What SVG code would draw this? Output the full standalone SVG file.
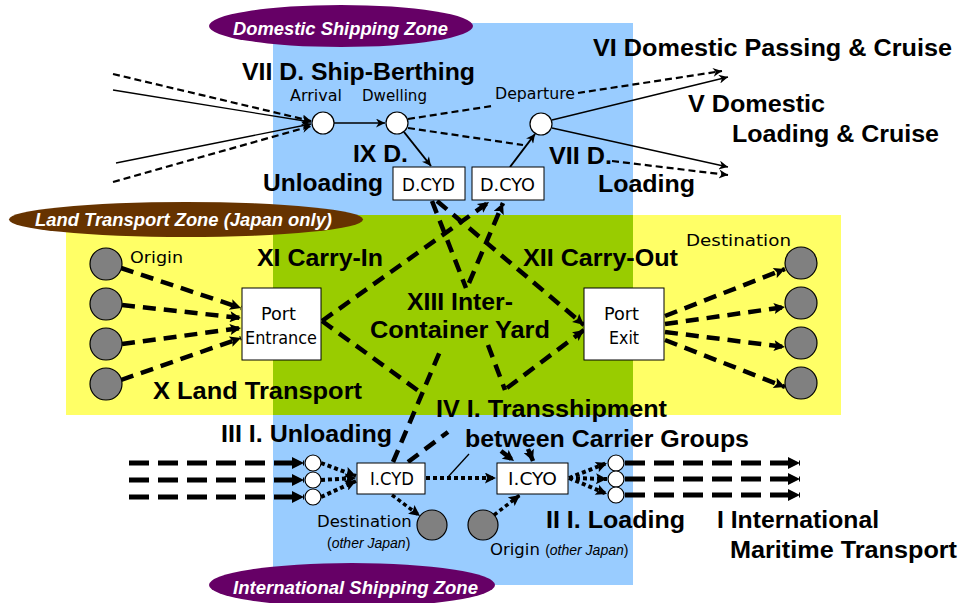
<svg xmlns="http://www.w3.org/2000/svg" width="960" height="603" viewBox="0 0 960 603">
<style>
.b{font-family:"Liberation Sans",Arial,sans-serif;font-weight:bold;font-size:23px;fill:#000}
.s{font-family:"DejaVu Sans","Liberation Sans",sans-serif;font-size:16.5px;fill:#000}
.bx{font-family:"DejaVu Sans","Liberation Sans",sans-serif;font-size:17.5px;fill:#000}
.it{font-family:"Liberation Sans",Arial,sans-serif;font-size:14px;fill:#000}
.z{font-family:"Liberation Sans",Arial,sans-serif;font-weight:bold;font-style:italic;font-size:19px;fill:#fff}
.box{fill:#fff;stroke:#000;stroke-width:1}
.cw{fill:#fff;stroke:#000;stroke-width:1.2}
.cg{fill:#808080;stroke:#000;stroke-width:1.2}
.thin{stroke:#000;stroke-width:1.3;fill:none}
.med{stroke:#000;stroke-width:2;fill:none}
.td{stroke:#000;stroke-width:2.2;stroke-dasharray:7 4;fill:none}
.k{stroke:#000;stroke-width:4.5;stroke-dasharray:13 8;fill:none}
.h{stroke:#000;stroke-width:5;stroke-dasharray:20 9;fill:none}
.d{stroke:#000;stroke-width:4;stroke-dasharray:4 3;fill:none}
</style>
<defs>
<marker id="a1" viewBox="0 0 10 10" refX="10" refY="5" markerWidth="11" markerHeight="9" markerUnits="userSpaceOnUse" orient="auto"><path d="M0,0 L10,5 L0,10 L3,5 z" fill="#000"/></marker>
<marker id="a2" viewBox="0 0 10 10" refX="10" refY="5" markerWidth="13" markerHeight="11" markerUnits="userSpaceOnUse" orient="auto"><path d="M0,0 L10,5 L0,10 L2,5 z" fill="#000"/></marker>
<marker id="a3" viewBox="0 0 10 10" refX="10" refY="5" markerWidth="14" markerHeight="12" markerUnits="userSpaceOnUse" orient="auto"><path d="M0,0 L10,5 L0,10 z" fill="#000"/></marker>
</defs>

<g id="zones">
<rect x="66" y="215" width="775" height="200" fill="#FFFF66"/>
<rect x="273" y="23" width="360" height="562" fill="#99CCFF"/>
<rect x="273" y="215" width="360" height="200" fill="#99CC00"/>
</g>

<g id="connectors">
<line class="td" x1="113" y1="74" x2="311" y2="121" marker-end="url(#a1)"/>
<line class="thin" x1="113" y1="90" x2="311" y2="122" marker-end="url(#a1)"/>
<line class="thin" x1="116" y1="163" x2="311" y2="124" marker-end="url(#a1)"/>
<line class="td" x1="113" y1="182" x2="311" y2="126" marker-end="url(#a1)"/>
<line class="thin" x1="334" y1="123" x2="385" y2="123" marker-end="url(#a1)"/>
<line class="med" x1="404" y1="132" x2="431" y2="166" marker-end="url(#a1)"/>
<line class="td" x1="408" y1="119" x2="492" y2="106"/>
<line class="td" x1="578" y1="93" x2="722" y2="71" marker-end="url(#a1)"/>
<line class="td" x1="408" y1="128" x2="523" y2="145"/>
<line class="td" x1="612" y1="161" x2="728" y2="175" marker-end="url(#a1)"/>
<line class="med" x1="510" y1="167" x2="535" y2="134" marker-end="url(#a1)"/>
<line class="thin" x1="552" y1="120" x2="728" y2="77" marker-end="url(#a1)"/>
<line class="thin" x1="552" y1="128" x2="728" y2="167" marker-end="url(#a1)"/>
<line class="k" x1="121" y1="268" x2="241" y2="308" marker-end="url(#a2)"/>
<line class="k" x1="122" y1="305" x2="241" y2="318" marker-end="url(#a2)"/>
<line class="k" x1="122" y1="344" x2="241" y2="328" marker-end="url(#a2)"/>
<line class="k" x1="121" y1="380" x2="241" y2="338" marker-end="url(#a2)"/>
<line class="k" x1="665" y1="316" x2="785" y2="269" marker-end="url(#a2)"/>
<line class="k" x1="665" y1="324" x2="785" y2="307" marker-end="url(#a2)"/>
<line class="k" x1="665" y1="332" x2="785" y2="347" marker-end="url(#a2)"/>
<line class="k" x1="665" y1="340" x2="785" y2="387" marker-end="url(#a2)"/>
<line class="k" x1="322" y1="321" x2="489" y2="202" marker-end="url(#a2)"/>
<line class="k" x1="322" y1="321" x2="420" y2="392"/>
<line class="k" x1="501" y1="451" x2="514" y2="461" marker-end="url(#a2)"/>
<line class="k" x1="393" y1="462" x2="441" y2="349"/>
<line class="k" x1="469" y1="283" x2="503" y2="203" marker-end="url(#a2)"/>
<line class="k" x1="408" y1="462" x2="448" y2="432"/>
<line class="k" x1="507" y1="388" x2="584" y2="330" marker-end="url(#a2)"/>
<line class="k" x1="437" y1="201" x2="584" y2="325" marker-end="url(#a2)"/>
<line class="k" x1="432" y1="201" x2="466" y2="288"/>
<line class="k" x1="488" y1="345" x2="505" y2="390"/>
<line class="k" x1="528" y1="449" x2="533" y2="461" marker-end="url(#a2)"/>
<line class="h" x1="129" y1="463" x2="304" y2="463" marker-end="url(#a3)"/>
<line class="h" x1="129" y1="480" x2="304" y2="480" marker-end="url(#a3)"/>
<line class="h" x1="129" y1="497" x2="304" y2="497" marker-end="url(#a3)"/>
<line class="d" x1="321" y1="463" x2="356" y2="476" marker-end="url(#a2)"/>
<line class="d" x1="321" y1="480" x2="356" y2="478" marker-end="url(#a2)"/>
<line class="d" x1="321" y1="497" x2="356" y2="481" marker-end="url(#a2)"/>
<line class="d" x1="426" y1="478" x2="496" y2="478" marker-end="url(#a2)"/>
<line class="thin" x1="469" y1="454" x2="448" y2="477"/>
<line class="d" x1="392" y1="495" x2="420" y2="516" marker-end="url(#a2)" style="stroke-width:3.5"/>
<line class="d" x1="494" y1="515" x2="520" y2="495" marker-end="url(#a2)" style="stroke-width:3.5"/>
<line class="d" x1="569" y1="478" x2="607" y2="463" marker-end="url(#a2)"/>
<line class="d" x1="569" y1="478" x2="607" y2="479" marker-end="url(#a2)"/>
<line class="d" x1="569" y1="478" x2="607" y2="494" marker-end="url(#a2)"/>
<line class="h" x1="625" y1="463" x2="800" y2="463" marker-end="url(#a3)"/>
<line class="h" x1="625" y1="479" x2="800" y2="479" marker-end="url(#a3)"/>
<line class="h" x1="625" y1="495" x2="800" y2="495" marker-end="url(#a3)"/>
</g>

<g id="zone-labels">
<ellipse cx="341" cy="26" rx="132" ry="21" fill="#660066"/>
<text class="z" x="233" y="35" textLength="215" lengthAdjust="spacingAndGlyphs">Domestic Shipping Zone</text>
<ellipse cx="186" cy="219.5" rx="177" ry="17.5" fill="#663300"/>
<text class="z" x="35" y="226" textLength="297" lengthAdjust="spacingAndGlyphs">Land Transport Zone (Japan only)</text>
<ellipse cx="352" cy="585" rx="143" ry="22" fill="#660066"/>
<text class="z" x="233" y="594" textLength="245" lengthAdjust="spacingAndGlyphs">International Shipping Zone</text>
</g>

<g id="arrival"><circle class="cw" cx="323" cy="123" r="11"/><text class="s" x="290" y="101" textLength="52" lengthAdjust="spacingAndGlyphs">Arrival</text></g>
<g id="dwelling"><circle class="cw" cx="397" cy="123" r="11"/><text class="s" x="362" y="101" textLength="65" lengthAdjust="spacingAndGlyphs">Dwelling</text></g>
<g id="departure"><circle class="cw" cx="541" cy="124" r="11"/><text class="s" x="495" y="99" textLength="80" lengthAdjust="spacingAndGlyphs">Departure</text></g>
<g id="dcyd"><rect class="box" x="393" y="167" width="72" height="33"/><text class="bx" x="402" y="191" textLength="53" lengthAdjust="spacingAndGlyphs">D.CYD</text></g>
<g id="dcyo"><rect class="box" x="472" y="167" width="72" height="33"/><text class="bx" x="480" y="191" textLength="55" lengthAdjust="spacingAndGlyphs">D.CYO</text></g>
<g id="port-entrance"><rect class="box" x="242" y="288" width="79" height="72"/><text class="bx" x="261" y="320" textLength="35" lengthAdjust="spacingAndGlyphs">Port</text><text class="bx" x="245" y="344" textLength="72" lengthAdjust="spacingAndGlyphs">Entrance</text></g>
<g id="port-exit"><rect class="box" x="584" y="288" width="80" height="72"/><text class="bx" x="604" y="320" textLength="35" lengthAdjust="spacingAndGlyphs">Port</text><text class="bx" x="609" y="344" textLength="30" lengthAdjust="spacingAndGlyphs">Exit</text></g>
<g id="icyd"><rect class="box" x="357" y="463" width="68" height="31"/><text class="bx" x="370" y="485" textLength="44" lengthAdjust="spacingAndGlyphs">I.CYD</text></g>
<g id="icyo"><rect class="box" x="497" y="463" width="71" height="31"/><text class="bx" x="508" y="485" textLength="49" lengthAdjust="spacingAndGlyphs">I.CYO</text></g>
<g id="origins">
<circle class="cg" cx="106" cy="264" r="16"/><circle class="cg" cx="106" cy="304" r="16"/><circle class="cg" cx="106" cy="344" r="16"/><circle class="cg" cx="106" cy="384" r="16"/>
<text class="s" x="130" y="263" textLength="53" lengthAdjust="spacingAndGlyphs">Origin</text>
</g>
<g id="destinations">
<circle class="cg" cx="801" cy="263" r="16"/><circle class="cg" cx="801" cy="303" r="16"/><circle class="cg" cx="801" cy="343" r="16"/><circle class="cg" cx="801" cy="383" r="16"/>
<text class="s" x="686" y="246" textLength="105" lengthAdjust="spacingAndGlyphs">Destination</text>
</g>
<g id="berth-in"><circle class="cw" cx="313" cy="463" r="8"/><circle class="cw" cx="313" cy="480" r="8"/><circle class="cw" cx="313" cy="497" r="8"/></g>
<g id="berth-out"><circle class="cw" cx="616" cy="463" r="8"/><circle class="cw" cx="616" cy="479" r="8"/><circle class="cw" cx="616" cy="495" r="8"/></g>
<g id="dest-other"><circle class="cg" cx="432" cy="525" r="15"/>
<text class="s" x="317" y="527" font-size="15">Destination</text>
<text class="it" x="327" y="548">(<tspan font-style="italic">other Japan</tspan>)</text></g>
<g id="origin-other"><circle class="cg" cx="483" cy="525" r="15"/>
<text class="s" x="490" y="555" font-size="15">Origin <tspan class="it">(<tspan font-style="italic">other Japan</tspan>)</tspan></text></g>

<g id="labels">
<text class="b" x="242" y="80" textLength="233" lengthAdjust="spacingAndGlyphs">VII D. Ship-Berthing</text>
<text class="b" x="593" y="56" textLength="359" lengthAdjust="spacingAndGlyphs">VI Domestic Passing &amp; Cruise</text>
<text class="b" x="688" y="112" textLength="137" lengthAdjust="spacingAndGlyphs">V Domestic</text>
<text class="b" x="732" y="142" textLength="207" lengthAdjust="spacingAndGlyphs">Loading &amp; Cruise</text>
<text class="b" x="549" y="164" textLength="63" lengthAdjust="spacingAndGlyphs">VII D.</text>
<text class="b" x="598" y="192" textLength="97" lengthAdjust="spacingAndGlyphs">Loading</text>
<text class="b" x="353" y="162" textLength="55" lengthAdjust="spacingAndGlyphs">IX D.</text>
<text class="b" x="263" y="191" textLength="120" lengthAdjust="spacingAndGlyphs">Unloading</text>
<text class="b" x="257" y="266" textLength="126" lengthAdjust="spacingAndGlyphs">XI Carry-In</text>
<text class="b" x="523" y="266" textLength="155" lengthAdjust="spacingAndGlyphs">XII Carry-Out</text>
<text class="b" x="407" y="310" textLength="106" lengthAdjust="spacingAndGlyphs">XIII Inter-</text>
<text class="b" x="370" y="338" textLength="180" lengthAdjust="spacingAndGlyphs">Container Yard</text>
<text class="b" x="153" y="399" textLength="209" lengthAdjust="spacingAndGlyphs">X Land Transport</text>
<text class="b" x="436" y="417" textLength="231" lengthAdjust="spacingAndGlyphs">IV I. Transshipment</text>
<text class="b" x="465" y="447" textLength="284" lengthAdjust="spacingAndGlyphs">between Carrier Groups</text>
<text class="b" x="221" y="442" textLength="171" lengthAdjust="spacingAndGlyphs">III I. Unloading</text>
<text class="b" x="546" y="528" textLength="139" lengthAdjust="spacingAndGlyphs">II I. Loading</text>
<text class="b" x="717" y="528" textLength="162" lengthAdjust="spacingAndGlyphs">I International</text>
<text class="b" x="730" y="558" textLength="227" lengthAdjust="spacingAndGlyphs">Maritime Transport</text>
</g>
</svg>
